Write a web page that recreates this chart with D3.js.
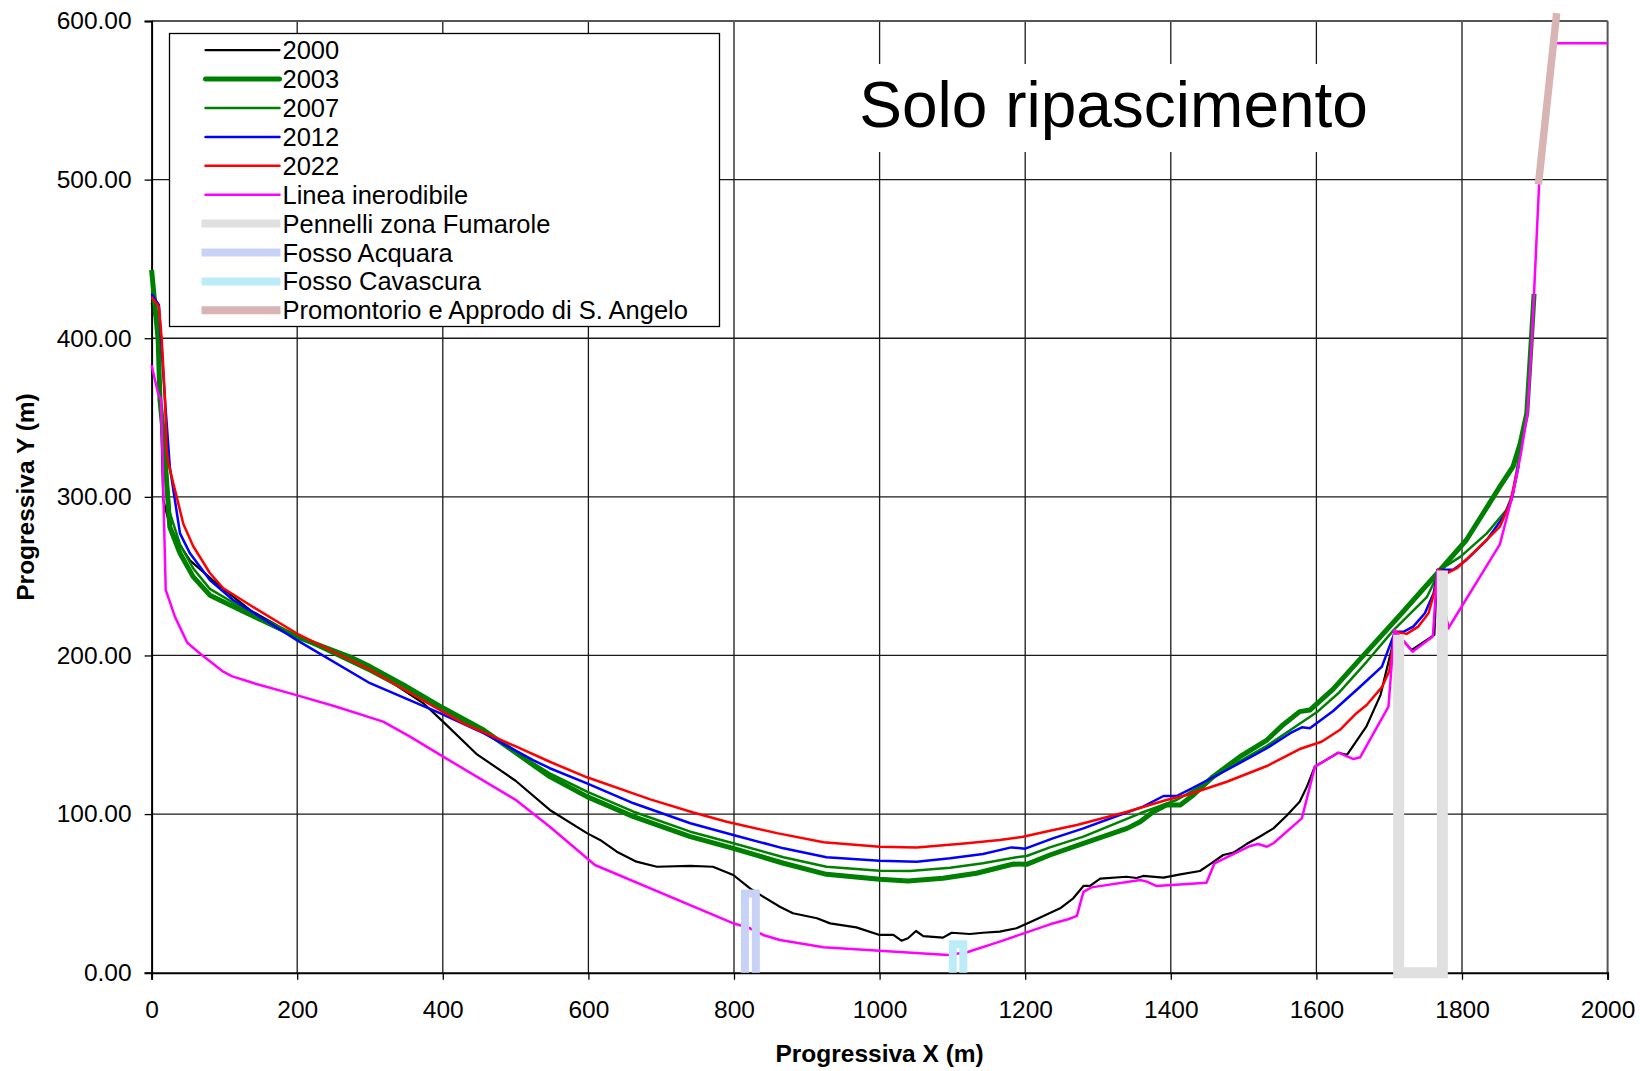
<!DOCTYPE html>
<html>
<head>
<meta charset="utf-8">
<script src="https://cdn.jsdelivr.net/npm/d3@7"></script>
<style>
  body { margin: 0; background: #fff; }
  svg text { font-family: "Liberation Sans", Arial, sans-serif; fill: #000; }
</style>
</head>
<body>
<div id="vis"></div>
<script>
// --- data: [progressiva X, progressiva Y] ---
const s2000 = [[0,422],[8,408],[13,350],[16,298],[25,282],[34.5,272.8],[52.7,260],[89,245.5],[135,228.7],[199,212],[250,202],[295,193],[318,186.6],[373,170],[401,158],[446,138],[500,121],[547,102.6],[598,88],[616,83.7],[639,76.3],[666,70],[694,66.8],[740,67.3],[771,66.8],[799,61.6],[822,53.2],[840,48],[863,41.6],[881,37.5],[914,34.3],[932,31.1],[968,28.6],[1000,23.8],[1019,23.8],[1030,20.2],[1039,21.7],[1050,26.3],[1060,23.1],[1087,22.1],[1099,25.2],[1124,24.4],[1142,25.2],[1165,25.9],[1188,28],[1211,32.8],[1248,40.6],[1266,46.9],[1280,54.7],[1289,54.7],[1303,59.3],[1339,60.5],[1353,59.7],[1362,61],[1390,59.9],[1413,62],[1440,64.1],[1454,68.5],[1472,74.2],[1486,75.7],[1504,81.1],[1522,85.7],[1541,91],[1559,99],[1577,107.8],[1587,117.3],[1598,130],[1630,138.7],[1642,137.3],[1669,155.5],[1688,175],[1703,203.5],[1708,215],[1731,203.5],[1762,213],[1766,254],[1781,218]];

const s2003 = [[0,443],[9,399],[11.5,361],[16,340],[25,281],[39,264.4],[57,249.7],[80,238],[117,229.7],[199,211.9],[272,199.2],[300,193],[346,181.4],[401,166.7],[456,153],[511,135.2],[547,123.6],[598,111],[662,98.4],[740,85.8],[799,78.4],[868,69],[927,62],[1000,58.9],[1039,57.8],[1087,59.5],[1133,62.7],[1184,68.5],[1202,68.3],[1234,74.2],[1280,81.6],[1340,91],[1358,95.2],[1376,101.5],[1394,105.7],[1413,105.7],[1431,112],[1458,123.6],[1495,136.2],[1532,146.7],[1554,156.2],[1577,164.6],[1591,165.6],[1623,178.8],[1660,197.7],[1715,225.5],[1770,253.9],[1806,272.8],[1852,306.4],[1870,319],[1880,333.8],[1889,352.7],[1896,405],[1899,428]];

const s2007 = [[0,440],[9,400],[12,361],[16,345],[25,290],[39,270],[57,255],[80,242],[117,232],[199,212],[300,190],[400,165.5],[455,152],[510,136],[547,125.7],[598,114.1],[662,101.5],[740,88.9],[799,81.6],[868,72.8],[927,66.8],[1000,64.3],[1042,64.1],[1097,66.2],[1142,69],[1188,72.8],[1202,73.6],[1234,79],[1280,85.8],[1358,100.5],[1408,108.9],[1440,117.3],[1486,131],[1532,143],[1577,157],[1600,164],[1632,177],[1669,196],[1706,216],[1752,237],[1770,254],[1798,262.3],[1834,277],[1861,291.7],[1870,302.3],[1880,330],[1889,352.7],[1896,405],[1899,428]];

const s2012 = [[0,428],[10,421],[13,400],[18.4,361],[25,319],[39,277],[52.7,264.4],[80,247.6],[112,235],[199,209.8],[300,182.5],[396,163.6],[456,151],[524,134],[547,128.9],[598,119.4],[662,106.8],[740,94.2],[799,86.8],[868,78.4],[927,72.8],[1000,70.6],[1051,70],[1097,72.1],[1142,74.8],[1181,79],[1200,78.2],[1238,84.7],[1280,91],[1326,98.8],[1362,104.7],[1390,111.4],[1408,111.4],[1431,116.7],[1477,127.8],[1532,141.5],[1564,151],[1580,154.7],[1591,154.1],[1623,165],[1660,180.3],[1690,193],[1708,215],[1720,215],[1733,218.2],[1749,226.6],[1761,239.2],[1767,254],[1788,254],[1806,260.2],[1834,272.8],[1857,287.5],[1868,298],[1878,320]];

const s2022 = [[0,426],[10,420],[14,399],[18.4,361],[20.7,330],[23,321],[34.5,300],[43.5,283],[57,269],[80,252],[98.5,242.4],[135,231.8],[199,214],[254,201.4],[300,191],[364,174],[428,157.2],[501,142.5],[547,133],[598,123.2],[685,109.3],[744,101],[790,95.2],[859,88],[923,82.2],[1000,79.4],[1051,79],[1120,81.6],[1165,83.7],[1197,85.7],[1234,89.5],[1271,93.1],[1340,101.5],[1394,108.9],[1422,112],[1477,120.4],[1532,130.3],[1577,141],[1607,145.6],[1632,153],[1655,163.6],[1669,168.8],[1690,180],[1700,190],[1708,215],[1724,213.6],[1740,218.2],[1754,226.6],[1763,241.3],[1767,254],[1781,252.2],[1793,255],[1820,266.5],[1852,281.2],[1866,296],[1875,315]];

const inerodibile = [[0,383],[9,365],[13,361],[19.4,241.3],[32,224.5],[49,208],[69,200.3],[98.5,189.8],[110,187],[144,182],[199,175],[254,167.7],[318,158.3],[355,148.8],[405,135],[500,109],[547,92],[609,67.9],[800,31],[822,28],[840,23.8],[863,20.6],[923,16],[1000,13.9],[1094,11.2],[1120,12.9],[1165,19.6],[1234,30.5],[1259,33.7],[1271,35.8],[1280,51],[1291,53.8],[1358,58.4],[1367,57.4],[1380,54.7],[1449,56.7],[1460,69],[1509,79.9],[1520,81.1],[1532,79.4],[1541,81.6],[1580,97.3],[1598,129.9],[1630,138.7],[1651,134.7],[1660,135.8],[1699,167.7],[1707,216],[1732,202.4],[1760,212],[1766,253.5],[1781,217],[1852,270],[1870,302],[1881,327.5],[1890,352.7],[1896,399],[1906,498],[1924,586],[2000,586]];

const pennelli = [[1713,213],[1713,0],[1773,0],[1773,253.5]];
const acquara = [[815,0],[815,50],[830,50],[830,0]];
const cavascura = [[1100.5,0],[1100.5,18],[1115,18],[1115,0]];
const promontorio = [[1905,497],[1930,605]];

const xTicks = [0, 200, 400, 600, 800, 1000, 1200, 1400, 1600, 1800, 2000];
const yTicks = [0, 100, 200, 300, 400, 500, 600];

const series = [
    { name: '2000', data: s2000, color: '#000000', w: 2.2, lw: 2.2 },
    { name: '2003', data: s2003, color: '#008000', w: 5, lw: 5 },
    { name: '2007', data: s2007, color: '#008000', w: 2.5, lw: 2.5 },
    { name: '2012', data: s2012, color: '#0000ff', w: 2.5, lw: 2.5 },
    { name: '2022', data: s2022, color: '#ff0000', w: 2.5, lw: 2.5 },
    { name: 'Linea inerodibile', data: inerodibile, color: '#ff00ff', w: 2.5, lw: 2.5 },
    { name: 'Pennelli zona Fumarole', data: pennelli, color: '#e0e0e0', w: 11, lw: 8, band: true },
    { name: 'Fosso Acquara', data: acquara, color: '#c8d2f6', w: 8, lw: 8, band: true },
    { name: 'Fosso Cavascura', data: cavascura, color: '#bcecf8', w: 8, lw: 8, band: true },
    { name: 'Promontorio e Approdo di S. Angelo', data: promontorio, color: '#d8b4b4', w: 7.5, lw: 8, band: true }
];

const W = 1640, H = 1071;
const margin = { top: 21, right: 32.4, bottom: 98.3, left: 151.6 };
const width = W - margin.left - margin.right;
const height = H - margin.top - margin.bottom;

const root = d3.select('#vis')
    .append('svg')
    .attr('width', W)
    .attr('height', H);

const svg = root.append('g')
    .attr('transform', `translate(${margin.left},${margin.top})`);

const xScale = d3.scaleLinear().domain([0, 2000]).range([0, width]);
const yScale = d3.scaleLinear().domain([0, 600]).range([height, 0]);

// grid
svg.selectAll('.vgrid')
    .data(xTicks.slice(1, -1))
    .enter()
    .append('line')
    .attr('x1', d => xScale(d)).attr('x2', d => xScale(d))
    .attr('y1', 0).attr('y2', height)
    .attr('stroke', '#1a1a1a').attr('stroke-width', 1.3);

svg.selectAll('.hgrid')
    .data(yTicks.slice(1, -1))
    .enter()
    .append('line')
    .attr('x1', 0).attr('x2', width)
    .attr('y1', d => yScale(d)).attr('y2', d => yScale(d))
    .attr('stroke', '#1a1a1a').attr('stroke-width', 1.3);

// frame top/right
svg.append('line').attr('x1', 0).attr('x2', width).attr('y1', 0).attr('y2', 0)
    .attr('stroke', '#555').attr('stroke-width', 2);
svg.append('line').attr('x1', width).attr('x2', width).attr('y1', 0).attr('y2', height)
    .attr('stroke', '#555').attr('stroke-width', 2);

// title with white box behind
svg.append('rect')
    .attr('x', 696).attr('y', 43)
    .attr('width', 534).attr('height', 88)
    .attr('fill', '#fff');
svg.append('text')
    .attr('x', 962).attr('y', 106)
    .attr('text-anchor', 'middle')
    .style('font-size', '64px')
    .text('Solo ripascimento');

// axes
const xAxis = d3.axisBottom(xScale).tickValues(xTicks).tickSize(7).tickFormat(d3.format('d'));
const yAxis = d3.axisLeft(yScale).tickValues(yTicks).tickSize(7).tickFormat(d3.format('.2f'));

const gx = svg.append('g')
    .attr('transform', `translate(0,${height})`)
    .call(xAxis);
gx.select('.domain').attr('stroke', '#000').attr('stroke-width', 2);
gx.selectAll('.tick line').attr('stroke', '#000').attr('stroke-width', 1.3);
gx.selectAll('.tick text').style('font-size', '24.5px').attr('dy', '0.71em').attr('y', 28);

const gy = svg.append('g').call(yAxis);
gy.select('.domain').attr('stroke', '#000').attr('stroke-width', 2);
gy.selectAll('.tick line').attr('stroke', '#000').attr('stroke-width', 1.3);
gy.selectAll('.tick text').style('font-size', '24.5px').attr('x', -20);

// axis titles
svg.append('text')
    .attr('x', width / 2)
    .attr('y', height + 89)
    .attr('text-anchor', 'middle')
    .style('font-size', '24.5px')
    .style('font-weight', 'bold')
    .text('Progressiva X (m)');

svg.append('text')
    .attr('transform', 'rotate(-90)')
    .attr('x', -(497 - margin.top))
    .attr('y', -margin.left + 34)
    .attr('text-anchor', 'middle')
    .style('font-size', '24.5px')
    .style('font-weight', 'bold')
    .text('Progressiva Y (m)');

// lines
const line = d3.line()
    .x(d => xScale(d[0]))
    .y(d => yScale(d[1]));

svg.selectAll('.series')
    .data(series)
    .enter()
    .append('path')
    .attr('class', 'series')
    .attr('d', d => line(d.data))
    .attr('fill', 'none')
    .attr('stroke', d => d.color)
    .attr('stroke-width', d => d.w)
    .attr('stroke-linejoin', d => d.band ? 'miter' : 'round')
    .attr('stroke-linecap', 'butt');

// legend
const legend = root.append('g')
    .attr('transform', 'translate(169.5,33.5)');

legend.append('rect')
    .attr('width', 550).attr('height', 293)
    .attr('fill', '#fff')
    .attr('stroke', '#000')
    .attr('stroke-width', 1.3);

legend.selectAll('.legend-item')
    .data(series)
    .enter()
    .append('g')
    .attr('transform', (d, i) => `translate(0, ${16.7 + i * 28.9})`)
    .each(function (d) {
        const g = d3.select(this);
        g.append('line')
            .attr('x1', d.band ? 32 : 36).attr('x2', d.band ? 111 : 110)
            .attr('y1', 0).attr('y2', 0)
            .attr('stroke', d.color)
            .attr('stroke-width', d.lw)
            .attr('stroke-linecap', d.band ? 'butt' : 'round');
        g.append('text')
            .attr('x', 113)
            .attr('y', 9)
            .style('font-size', '25.5px')
            .text(d.name);
    });
</script>
</body>
</html>
